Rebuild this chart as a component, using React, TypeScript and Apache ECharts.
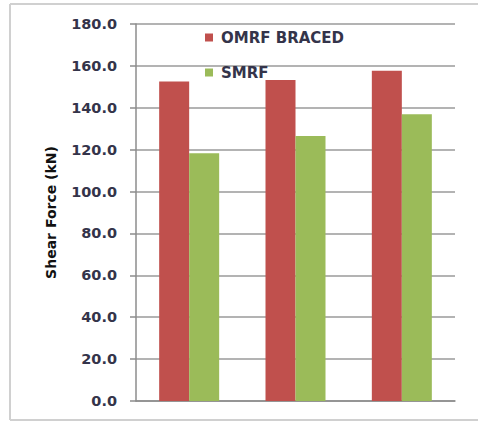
import React, { useEffect, useRef } from "react";
import * as echarts from "echarts";

const categories = ["1", "2", "3"];
const omrfBraced = [152.5, 153.3, 157.7];
const smrf = [118.3, 126.5, 136.9];
const seriesNames = ["OMRF BRACED", "SMRF"];
const yAxisTitle = "Shear Force (kN)";

export default function App() {
  const ref = useRef<HTMLDivElement>(null);
  useEffect(() => {
    document.body.style.margin = "0";
    document.body.style.overflow = "hidden";
    document.documentElement.style.overflow = "hidden";
    const chart = echarts.init(ref.current!, null, { renderer: "svg" });
    const font = "'DejaVu Sans', sans-serif";
    const frame = { stroke: "#d0d0d0", lineWidth: 2 };
    chart.setOption({
      animation: false,
      backgroundColor: "#ffffff",
      graphic: [
        { type: "line", shape: { x1: 10, y1: 4, x2: 478, y2: 4 }, style: frame, z: -1 },
        { type: "line", shape: { x1: 10, y1: 4, x2: 10, y2: 420 }, style: frame, z: -1 },
        { type: "line", shape: { x1: 10, y1: 420, x2: 478, y2: 420 }, style: frame, z: -1 },
      ],
      grid: { left: 136, right: 23, top: 24, height: 377, containLabel: false },
      legend: {
        orient: "vertical",
        left: 205,
        top: 29,
        padding: 0,
        itemWidth: 8,
        itemHeight: 8,
        itemGap: 18,
        icon: "rect",
        textStyle: {
          fontFamily: font,
          fontSize: 15,
          fontWeight: "bold",
          color: "#34344a",
          lineHeight: 17,
          padding: [0, 0, 0, 3],
        },
        data: seriesNames,
      },
      xAxis: {
        type: "category",
        data: categories,
        axisLine: { lineStyle: { color: "#8c8c8c", width: 1.5 } },
        axisTick: { show: false },
        axisLabel: { show: false },
      },
      yAxis: {
        type: "value",
        min: 0,
        max: 180,
        interval: 20,
        name: yAxisTitle,
        nameLocation: "middle",
        nameGap: 78,
        nameTextStyle: {
          fontFamily: font,
          fontSize: 14,
          fontWeight: "bold",
          color: "#111111",
        },
        axisLine: { show: true, lineStyle: { color: "#8c8c8c", width: 1.5 } },
        axisTick: { show: true, length: 6, lineStyle: { color: "#8c8c8c", width: 1.5 } },
        splitLine: { lineStyle: { color: "#9a9a9a", width: 1.5 } },
        axisLabel: {
          margin: 19,
          fontFamily: font,
          fontSize: 14.5,
          fontWeight: "bold",
          color: "#34344a",
          formatter: (v: number) => v.toFixed(1),
        },
      },
      series: [
        {
          name: seriesNames[0],
          type: "bar",
          data: omrfBraced,
          barWidth: 30,
          barGap: "0%",
          itemStyle: { color: "#c0504d" },
        },
        {
          name: seriesNames[1],
          type: "bar",
          data: smrf,
          barWidth: 30,
          barGap: "0%",
          itemStyle: { color: "#9bbb59" },
        },
      ],
    });
    return () => chart.dispose();
  }, []);
  return <div ref={ref} style={{ width: 478, height: 421 }} />;
}
